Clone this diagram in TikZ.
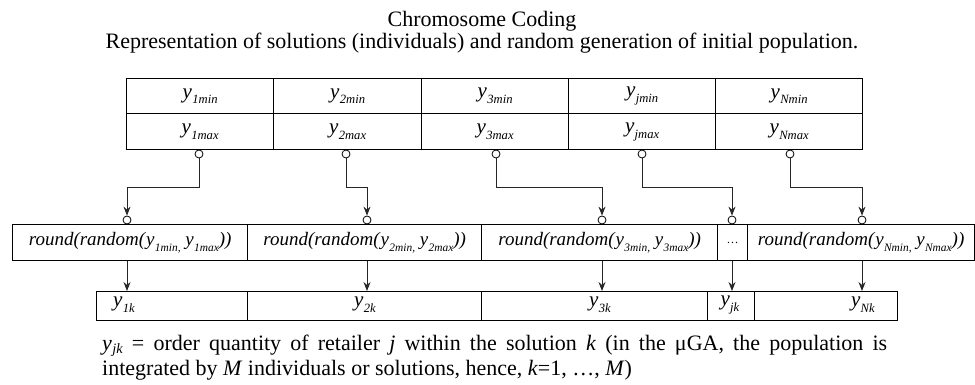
\documentclass[tikz,border=0pt]{standalone}
\usepackage{fontspec}
\usepackage{graphicx}
\setmainfont{Liberation Serif}
\usetikzlibrary{arrows.meta}
\newcommand\ysub[3][0.6]{\textit{y}\kern0.3pt\raisebox{#2}{\scalebox{#1}{\textit{#3}}}}
\begin{document}
\begin{tikzpicture}[x=1pt,y=-1pt,
  cell/.style={draw, line width=1.3pt, inner sep=0pt, anchor=north west},
  dot/.style={circle, draw, line width=0.8pt, fill=white, inner sep=0pt, minimum size=8pt},
  conn/.style={draw=black!85, line width=0.8pt},
  arr/.style={conn, -{Stealth[length=9pt,width=7pt,inset=3pt]}},
  ylab/.style={font=\fontsize{21}{24}\selectfont},
  rlab/.style={font=\fontsize{19}{22}\selectfont},
  txt/.style={font=\fontsize{22}{25}\selectfont, inner sep=0pt}]
\useasboundingbox (0,0) rectangle (975,385);
% title
\node[txt, anchor=base] (t1) at (482,27) {Chromosome Coding};
\node[txt, anchor=base] (t2) at (482,49) {Representation of solutions (individuals) and random generation of initial population.};
% top table
\node[cell, minimum width=147pt, minimum height=35pt, ylab] (n1) at (126,78) {\ysub{-0.28em}{1min}};
\node[cell, minimum width=148pt, minimum height=35pt, ylab] (n2) at (273,78) {\ysub{-0.28em}{2min}};
\node[cell, minimum width=147pt, minimum height=35pt, ylab] (n3) at (421,78) {\ysub{-0.28em}{3min}};
\node[cell, minimum width=147pt, minimum height=35pt, ylab] (n4) at (568,78) {\ysub{-0.28em}{jmin}};
\node[cell, minimum width=147pt, minimum height=35pt, ylab] (n5) at (715,78) {\ysub{-0.28em}{Nmin}};
\node[cell, minimum width=147pt, minimum height=36pt, ylab] (x1) at (126,113) {\ysub{-0.28em}{1max}};
\node[cell, minimum width=148pt, minimum height=36pt, ylab] (x2) at (273,113) {\ysub{-0.28em}{2max}};
\node[cell, minimum width=147pt, minimum height=36pt, ylab] (x3) at (421,113) {\ysub{-0.28em}{3max}};
\node[cell, minimum width=147pt, minimum height=36pt, ylab] (x4) at (568,113) {\ysub{-0.28em}{jmax}};
\node[cell, minimum width=147pt, minimum height=36pt, ylab] (x5) at (715,113) {\ysub{-0.28em}{Nmax}};
% round row
\node[cell, minimum width=235pt, minimum height=36pt, rlab] (r1) at (12,224) {\textit{round(random(}\ysub{-0.28em}{1min,} \ysub{-0.28em}{1max}\textit{))}};
\node[cell, minimum width=234pt, minimum height=36pt, rlab] (r2) at (247,224) {\textit{round(random(}\ysub{-0.28em}{2min,} \ysub{-0.28em}{2max}\textit{))}};
\node[cell, minimum width=236pt, minimum height=36pt, rlab] (r3) at (481,224) {\textit{round(random(}\ysub{-0.28em}{3min,} \ysub{-0.28em}{3max}\textit{))}};
\node[cell, minimum width=30pt, minimum height=36pt, rlab] (r4) at (717,224) {\fontsize{12}{14}\selectfont\ldots};
\node[cell, minimum width=227pt, minimum height=36pt, rlab] (r5) at (747,224) {\textit{round(random(}\ysub{-0.28em}{Nmin,} \ysub{-0.28em}{Nmax}\textit{))}};
% bottom row
\node[cell, minimum width=151pt, minimum height=29pt] (b1) at (96,291) {};
\node[cell, minimum width=234pt, minimum height=29pt] (b2) at (247,291) {};
\node[cell, minimum width=226pt, minimum height=29pt] (b3) at (481,291) {};
\node[cell, minimum width=47pt, minimum height=29pt] (b4) at (707,291) {};
\node[cell, minimum width=143pt, minimum height=29pt] (b5) at (754,291) {};
\node[ylab] (l1) at (124,305) {\ysub{-0.28em}{1k}};
\node[ylab] (l2) at (365,305) {\ysub{-0.28em}{2k}};
\node[ylab] (l3) at (600,305) {\ysub{-0.28em}{3k}};
\node[ylab] (l4) at (730,305) {\ysub{-0.28em}{jk}};
\node[ylab] (l5) at (863,305) {\ysub{-0.28em}{Nk}};
% dots
\node[dot] (c1) at (199,154) {};
\node[dot] (c2) at (346,154) {};
\node[dot] (c3) at (496,154) {};
\node[dot] (c4) at (642,154) {};
\node[dot] (c5) at (790,154) {};
\node[dot] (d1) at (127,220) {};
\node[dot] (d2) at (367,220) {};
\node[dot] (d3) at (602,220) {};
\node[dot] (d4) at (732,220) {};
\node[dot] (d5) at (862,220) {};
% connectors
\foreach \i in {1,...,5}{
  \draw[arr] (c\i.south) -- ++(0,29) -| (d\i.north);
  \draw[arr] (d\i |- r\i.south) -- (d\i |- b\i.north);
}
% legend
\node[txt, anchor=base west] (e1) at (102,350) {\makebox[785pt][s]{\ysub[0.65]{-0.15em}{jk} = order quantity of retailer \textit{j} within the solution \textit{k} (in the μGA, the population is}};
\node[txt, anchor=base west] (e2) at (102,375) {integrated by \textit{M} individuals or solutions, hence, \textit{k}=1, …, \textit{M})};
\end{tikzpicture}
\end{document}
